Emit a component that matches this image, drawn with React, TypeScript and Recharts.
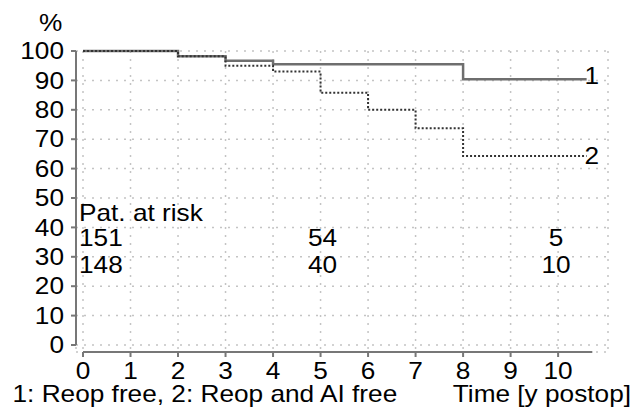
import React from "react";
import {
  LineChart,
  Line,
  XAxis,
  YAxis,
  CartesianGrid,
  ReferenceLine,
  LabelList,
  Label,
} from "recharts";

// Kaplan-Meier style freedom curves (percent vs. years after surgery)
const reopFree = [
  { t: 0, v: 100 },
  { t: 2, v: 98.2 },
  { t: 3, v: 96.7 },
  { t: 4, v: 95.5 },
  { t: 8, v: 90.4 },
  { t: 10.6, v: 90.4, tag: "1" },
];

const reopAiFree = [
  { t: 0, v: 100 },
  { t: 2, v: 98.2 },
  { t: 3, v: 95.0 },
  { t: 4, v: 93.0 },
  { t: 5, v: 85.8 },
  { t: 6, v: 80.0 },
  { t: 7, v: 73.7 },
  { t: 8, v: 64.3 },
  { t: 10.6, v: 64.3, tag: "2" },
];

const timeTicks = [0, 1, 2, 3, 4, 5, 6, 7, 8, 9, 10];
const percentTicks = [0, 10, 20, 30, 40, 50, 60, 70, 80, 90, 100];

// Patients at risk
const riskTimes = [0, 5, 10];
const riskReopFree = [151, 54, 5];
const riskReopAiFree = [148, 40, 10];

const FONT = "'Liberation Sans', Arial, Helvetica, sans-serif";
const FS = 23;
const SX = 1.14;
const AXIS = "#777";
const INK = "#000";

function Txt({
  x,
  y,
  anchor = "start",
  children,
}: {
  x: number;
  y: number;
  anchor?: "start" | "middle" | "end";
  children: React.ReactNode;
}) {
  return (
    <text
      transform={`translate(${x},${y}) scale(${SX},1)`}
      textAnchor={anchor}
      fontFamily={FONT}
      fontSize={FS}
      fill={INK}
    >
      {children}
    </text>
  );
}

const YTick = (props: any) => (
  <Txt x={props.x} y={props.y + 8.2} anchor="end">
    {props.payload.value}
  </Txt>
);

const XTick = (props: any) => (
  <Txt x={props.x} y={props.y + 21.5} anchor="middle">
    {props.payload.value}
  </Txt>
);

const endLabel = (dy: number) => (props: any) => {
  if (props.value === undefined || props.value === null || props.value === "")
    return null;
  return (
    <Txt x={props.x - 2} y={props.y + dy}>
      {props.value}
    </Txt>
  );
};

const riskLabel = (i: number) => (props: any) => {
  const vb = props.viewBox || {};
  const x = vb.x;
  const top = vb.y;
  if (i === 0) {
    return (
      <g>
        <Txt x={x - 4} y={top + 170}>Pat. at risk</Txt>
        <Txt x={x - 4} y={top + 195}>{riskReopFree[i]}</Txt>
        <Txt x={x - 4} y={top + 221.5}>{riskReopAiFree[i]}</Txt>
      </g>
    );
  }
  const dx = i === 1 ? 2 : -2;
  return (
    <g>
      <Txt x={x + dx} y={top + 195} anchor="middle">
        {riskReopFree[i]}
      </Txt>
      <Txt x={x + dx} y={top + 221.5} anchor="middle">
        {riskReopAiFree[i]}
      </Txt>
    </g>
  );
};

export default function App() {
  return (
    <div style={{ position: "absolute", left: 0, top: 0, background: "#fff" }}>
      <LineChart
        width={631}
        height={415}
        margin={{ top: 51, right: 23, bottom: 0, left: 0 }}
      >
        <CartesianGrid
          stroke="#c4c4c4"
          strokeWidth={1.5}
          strokeDasharray="2 6"
        />
        <XAxis
          type="number"
          dataKey="t"
          domain={[-0.1474, 11.05]}
          ticks={timeTicks}
          height={63}
          axisLine={false}
          tickLine={{ stroke: AXIS, strokeWidth: 2 }}
          tickSize={5}
          tickMargin={0}
          tick={<XTick />}
          interval={0}
        >
          <Label
            content={() => (
              <g>
                <Txt x={12.5} y={402}>1: Reop free, 2: Reop and AI free</Txt>
                <Txt x={631} y={402} anchor="end">Time [y postop]</Txt>
              </g>
            )}
          />
        </XAxis>
        <YAxis
          type="number"
          domain={[-2.38, 100]}
          ticks={percentTicks}
          width={76}
          axisLine={false}
          tickLine={{ stroke: AXIS, strokeWidth: 2 }}
          tickSize={5}
          tickMargin={7}
          tick={<YTick />}
          interval={0}
        >
          <Label
            content={(p: any) => (
              <Txt x={39} y={(p.viewBox?.y ?? 51) - 20}>%</Txt>
            )}
          />
        </YAxis>

        {/* offset axis lines */}
        <ReferenceLine
          segment={[
            { x: -0.1474, y: 0 },
            { x: -0.1474, y: 100 },
          ]}
          stroke={AXIS}
          strokeWidth={2}
          ifOverflow="visible"
        />
        <ReferenceLine
          segment={[
            { x: 0, y: -2.38 },
            { x: 10.72, y: -2.38 },
          ]}
          stroke={AXIS}
          strokeWidth={2}
          ifOverflow="visible"
        />

        {riskTimes.map((t, i) => (
          <ReferenceLine
            key={t}
            x={t}
            stroke="none"
            ifOverflow="visible"
            label={riskLabel(i)}
          />
        ))}

        <Line
          data={reopFree}
          dataKey="v"
          type="stepAfter"
          stroke="#6e6e6e"
          strokeWidth={2.5}
          dot={false}
          activeDot={false}
          isAnimationActive={false}
        >
          <LabelList dataKey="tag" content={endLabel(4.5)} />
        </Line>
        <Line
          data={reopAiFree}
          dataKey="v"
          type="stepAfter"
          stroke="#333"
          strokeWidth={2}
          strokeDasharray="2 2"
          dot={false}
          activeDot={false}
          isAnimationActive={false}
        >
          <LabelList dataKey="tag" content={endLabel(8)} />
        </Line>
      </LineChart>
    </div>
  );
}
